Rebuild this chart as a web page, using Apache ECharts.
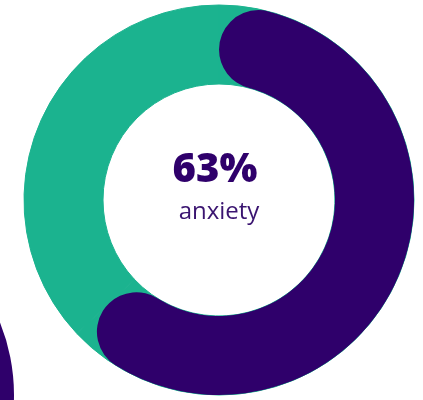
<!DOCTYPE html>
<html>
<head>
<meta charset="utf-8">
<script src="https://cdn.jsdelivr.net/npm/echarts@6/dist/echarts.min.js"></script>
<style>
  html, body { margin: 0; padding: 0; background: #ffffff; }
  #chart { width: 423px; height: 400px; }
</style>
</head>
<body>
<div id="chart"></div>
<script>
// Share of respondents reporting each outcome
const categories = ['anxiety', 'no anxiety'];
const shares = [63, 37];
// Neighbouring ring that is cut off at the lower-left edge
const neighbourShares = [100];

const PURPLE = '#2f006b';
const GREEN = '#1bb38f';

const chart = echarts.init(document.getElementById('chart'), null, { renderer: 'canvas' });

const ringBase = {
  type: 'pie',
  center: [219, 200],
  radius: [116, 195],
  startAngle: 90,
  clockwise: true,
  silent: true,
  animation: false,
  label: { show: false },
  labelLine: { show: false },
  emphasis: { disabled: true }
};

chart.setOption({
  backgroundColor: '#ffffff',
  series: [
    // full green track behind the highlighted arc
    Object.assign({}, ringBase, {
      z: 1,
      data: categories.map((name, i) => ({
        name, value: shares[i],
        itemStyle: { color: GREEN, borderColor: GREEN, borderWidth: 1 }
      }))
    }),
    // highlighted share with rounded ends
    Object.assign({}, ringBase, {
      z: 2,
      data: categories.map((name, i) => ({
        name, value: shares[i],
        itemStyle: i === 0
          ? { color: PURPLE, borderRadius: 40 }
          : { color: 'rgba(0,0,0,0)' }
      }))
    }),
    Object.assign({}, ringBase, {
      z: 1,
      center: [-181, 395],
      data: neighbourShares.map(v => ({ value: v, itemStyle: { color: PURPLE } }))
    })
  ],
  graphic: [
    {
      type: 'text', x: 215, y: 171, silent: true,
      style: {
        text: shares[0] + '%',
        font: '800 40px "Open Sans"',
        fill: PURPLE, align: 'center', verticalAlign: 'middle'
      }
    },
    {
      type: 'text', x: 219, y: 212, silent: true,
      style: {
        text: categories[0],
        font: '400 24px "Open Sans"',
        fill: '#3a1470', align: 'center', verticalAlign: 'middle'
      }
    }
  ]
});
</script>
</body>
</html>
